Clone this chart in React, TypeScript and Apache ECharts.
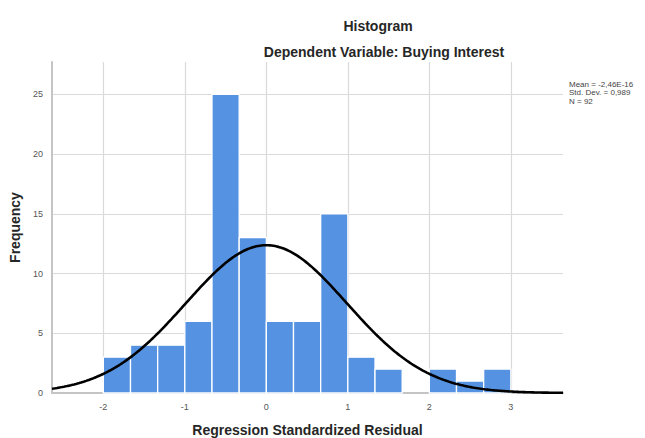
import React, { useEffect, useRef } from "react";
import * as echarts from "echarts";

// Histogram bins (lower and upper edges) and their frequencies
const binLower = [-2, -1.6667, -1.3333, -1, -0.6667, -0.3333, 0, 0.3333, 0.6667, 1, 1.3333, 1.6667, 2, 2.3333, 2.6667];
const binUpper = [-1.6667, -1.3333, -1, -0.6667, -0.3333, 0, 0.3333, 0.6667, 1, 1.3333, 1.6667, 2, 2.3333, 2.6667, 3];
const frequencies = [3, 4, 4, 6, 25, 13, 6, 6, 15, 3, 2, 0, 2, 1, 2];

const xTickValues = [-2, -1, 0, 1, 2, 3];
const yTickValues = [0, 5, 10, 15, 20, 25];

// Reported statistics
const statMean = -2.46e-16;
const statSd = 0.989;
const statN = 92;
const statLines = ["Mean = -2,46E-16", "Std. Dev. = 0,989", "N = 92"];

const X_MIN = -2.63;
const X_MAX = 3.64;
const Y_MAX = 27.7;

const FONT = "'Liberation Sans', Arial, sans-serif";

export default function App() {
  const ref = useRef<HTMLDivElement>(null);

  useEffect(() => {
    if (!ref.current) return;
    const chart = echarts.init(ref.current, undefined, { renderer: "svg" });

    const histData = binLower.map((lo, i) => [lo, binUpper[i], frequencies[i]]);

    // fitted normal curve from the reported statistics
    const binWidth = binUpper[0] - binLower[0];
    const curve: number[][] = [];
    const steps = 300;
    for (let i = 0; i <= steps; i++) {
      const x = X_MIN + ((X_MAX - X_MIN) * i) / steps;
      const z = (x - statMean) / statSd;
      const y = (statN * binWidth * Math.exp(-0.5 * z * z)) / (statSd * Math.sqrt(2 * Math.PI));
      curve.push([x, y]);
    }

    chart.setOption({
      animation: false,
      backgroundColor: "#ffffff",
      textStyle: { fontFamily: FONT },
      title: [
        {
          text: "Histogram",
          left: 373,
          top: 14,
          textAlign: "center",
          textStyle: { fontSize: 14, fontWeight: "bold", color: "#262626", fontFamily: FONT },
        },
        {
          text: "Dependent Variable: Buying Interest",
          left: 379,
          top: 40,
          textAlign: "center",
          textStyle: { fontSize: 14, fontWeight: "bold", color: "#262626", fontFamily: FONT },
        },
      ],
      graphic: statLines.map((t, i) => ({
        type: "text",
        left: 569,
        top: 80 + i * 8.5,
        style: { text: t, fontSize: 8, fill: "#444", fontFamily: FONT },
      })),
      grid: { left: 52, right: 82, top: 62, bottom: 45, outerBoundsMode: "none", containLabel: false },
      xAxis: {
        type: "value",
        min: X_MIN,
        max: X_MAX,
        name: "Regression Standardized Residual",
        nameLocation: "middle",
        nameGap: 30,
        nameTextStyle: { fontSize: 14, fontWeight: "bold", color: "#262626", fontFamily: FONT },
        axisLine: { show: true, onZero: false, lineStyle: { color: "#c4c4c4", width: 2 } },
        axisTick: { show: false, customValues: xTickValues },
        axisLabel: { customValues: xTickValues, fontSize: 9, color: "#555", margin: 9, fontFamily: FONT },
        splitLine: { show: true, lineStyle: { color: "#dadada", width: 1.2 } },
      },
      yAxis: {
        type: "value",
        min: 0,
        max: Y_MAX,
        name: "Frequency",
        nameLocation: "middle",
        nameGap: 30,
        nameRotate: 90,
        nameTextStyle: { fontSize: 14, fontWeight: "bold", color: "#262626", fontFamily: FONT },
        axisLine: { show: true, onZero: false, lineStyle: { color: "#c4c4c4", width: 2 } },
        axisTick: { show: false, customValues: yTickValues },
        axisLabel: { customValues: yTickValues, fontSize: 9, color: "#555", margin: 9, fontFamily: FONT },
        splitLine: { show: true, lineStyle: { color: "#dadada", width: 1.2 } },
      },
      series: [
        {
          type: "custom",
          data: histData,
          encode: { x: [0, 1], y: 2 },
          z: 2,
          renderItem: (params: any, api: any) => {
            const lo = api.value(0);
            const hi = api.value(1);
            const v = api.value(2);
            if (!v) return null;
            const p0 = api.coord([lo, v]);
            const p1 = api.coord([hi, 0]);
            return {
              type: "rect",
              shape: { x: p0[0], y: p0[1], width: p1[0] - p0[0], height: p1[1] - p0[1] },
              style: { fill: "#5593e2", stroke: "#ffffff", lineWidth: 1.3 },
            };
          },
        },
        {
          type: "line",
          data: curve,
          showSymbol: false,
          symbol: "none",
          smooth: false,
          z: 3,
          lineStyle: { color: "#000000", width: 2.6 },
        },
      ],
    });

    return () => chart.dispose();
  }, []);

  return (
    <div
      ref={ref}
      style={{ position: "fixed", left: 0, top: 0, width: 645, height: 438, background: "#fff" }}
    />
  );
}
